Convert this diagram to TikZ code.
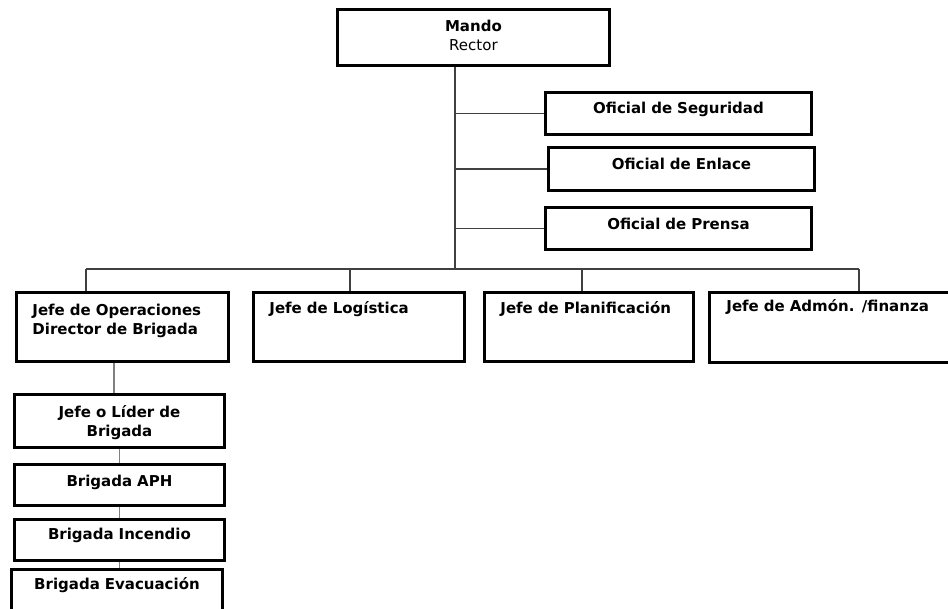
\documentclass[tikz,border=0pt]{standalone}
\usepackage{fontspec}
\setmainfont{DejaVu Sans}
\usetikzlibrary{positioning}

\begin{document}
\begin{tikzpicture}[x=1pt,y=-1pt,every node/.style={font=\fontsize{15}{19.5}\selectfont\bfseries,inner ysep=0pt},box/.style={draw,line width=2.9pt,anchor=north west},mid/.style={box,align=center,inner xsep=4pt},jefe/.style={box,align=left,inner xsep=16pt,text height=21pt,text depth=48pt},link/.style={line width=1.8pt,draw=black!75},sublink/.style={line width=1.8pt,draw=black!50}]
\useasboundingbox (0,0) rectangle (948,608);
\clip (0,0) rectangle (948,608);
\node[mid,text width=264pt,text height=22pt,text depth=34pt] (mando) at (336,8) {Mando\\\mdseries Rector};
\node[mid,text width=258pt,text height=21pt,text depth=21pt] (seg) at (544,91) {Oficial de Seguridad};
\node[mid,text width=258pt,text height=22pt,text depth=21pt] (enl) at (547,146) {Oficial de Enlace};
\node[mid,text width=258pt,text height=22pt,text depth=20pt] (pren) at (544,206) {Oficial de Prensa};
\node[jefe,text width=180pt,text height=23pt,text depth=46pt] (ops) at (15,291) {Jefe de Operaciones\\Director de Brigada};
\node[jefe,text width=179pt] (log) at (252,291) {Jefe de Log\'istica};
\node[jefe,text width=177pt] (plan) at (483,291) {Jefe de Planificaci\'on};
\node[jefe,inner xsep=17pt,text width=226pt,text height=19pt,text depth=51pt] (adm) at (708,291) {Jefe de Adm\'on. /finanza};
\node[mid,text width=202pt,text height=23pt,text depth=30pt] (lider) at (13,393) {Jefe o L\'ider de\\Brigada};
\node[mid,text width=202pt,text height=22pt,text depth=19pt] (aph) at (13,463) {Brigada APH};
\node[mid,text width=202pt,text height=20pt,text depth=21pt] (inc) at (13,518) {Brigada Incendio};
\node[mid,text width=203pt,text height=20pt,text depth=50pt] (evac) at (10,568) {Brigada Evacuaci\'on};
\coordinate (hub) at (455,269); \coordinate (bar-ops) at (86,269); \coordinate (bar-log) at (350,269); \coordinate (bar-plan) at (582,269); \coordinate (bar-adm) at (859,269);
\draw[link] (mando.south -| hub) -- (hub); \draw[link] (seg.west -| hub) -- (seg.west); \draw[link] (enl.west -| hub) -- (enl.west); \draw[link] (pren.west -| hub) -- (pren.west);
\draw[link] (bar-ops) -- (bar-adm);
\draw[link] (bar-ops) -- (bar-ops |- ops.north); \draw[link] (bar-log) -- (bar-log |- log.north); \draw[link] (bar-plan) -- (bar-plan |- plan.north); \draw[link] (bar-adm) -- (bar-adm |- adm.north);
\draw[sublink] (lider.north -| 114,0) -- (ops.south -| 114,0); \draw[sublink] (aph.north) -- (lider.south -| aph.north); \draw[sublink] (inc.north) -- (aph.south -| inc.north); \draw[sublink] (evac.north -| inc.north) -- (inc.south);
\end{tikzpicture}
\end{document}
